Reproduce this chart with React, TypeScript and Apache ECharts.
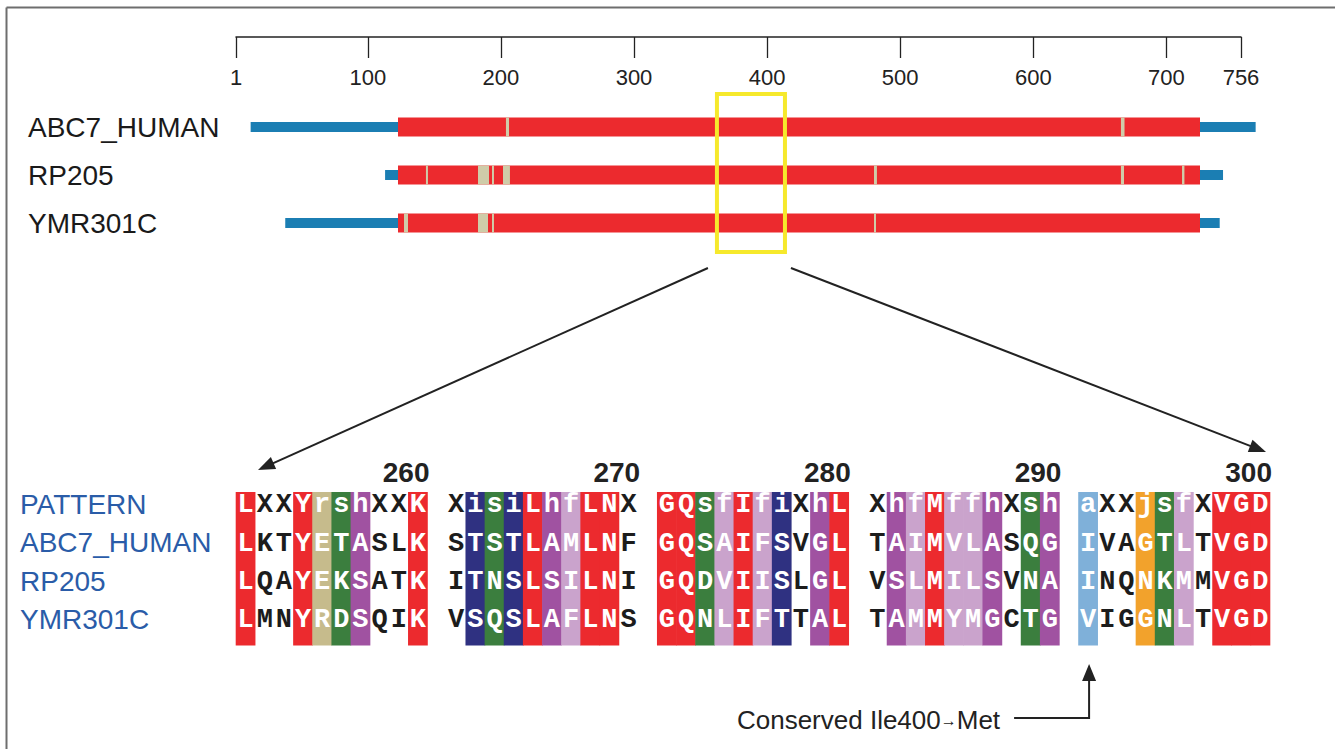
import React, { useEffect, useRef } from 'react';
import * as echarts from 'echarts';

// ---------- data ----------
const rulerTicks = [1, 100, 200, 300, 400, 500, 600, 700, 756];
const seqNames = ['ABC7_HUMAN', 'RP205', 'YMR301C'];
const seqStart = [12, 113, 38];
const seqEnd = [767, 742.5, 740];
const domainStart = [122.7, 122.7, 122.7];
const domainEnd = [725.2, 725.2, 725.2];
const gapsABC7 = [[203.8, 206.1], [665.8, 668.5]];
const gapsRP205 = [[143.7, 145.2], [182.8, 191.1], [193.3, 194.8], [201.6, 206.8], [480.3, 482.5], [665.8, 668.1], [711.7, 713.5]];
const gapsYMR301C = [[127.2, 130.2], [182.8, 190.3], [193.3, 194.8], [480.3, 481.8]];
const zoomWindow = [362.3, 413.4];

const alignNames = ['PATTERN', 'ABC7_HUMAN', 'RP205', 'YMR301C'];
const patternBlocks = ['LXXYrshXXK', 'XisiLhfLNX', 'GQsfIfiXhL', 'XhfMffhXsh', 'aXXjsfXVGD'];
const abc7Blocks = ['LKTYETASLK', 'STSTLAMLNF', 'GQSAIFSVGL', 'TAIMVLASQG', 'IVAGTLTVGD'];
const rp205Blocks = ['LQAYEKSATK', 'ITNSLSILNI', 'GQDVIISLGL', 'VSLMILSVNA', 'INQNKMMVGD'];
const ymrBlocks = ['LMNYRDSQIK', 'VSQSLAFLNS', 'GQNLIFTTAL', 'TAMMYMGCTG', 'VIGGNLTVGD'];
const blockEndLabels = ['260', '270', '280', '290', '300'];
const conservedBlock = 4;
const conservedCol = 0;
const annotationText = 'Conserved Ile400';
const annotationTail = 'Met';

// ---------- styles ----------
const RED = '#ec2a2e';
const BLUE = '#1b7eb3';
const TAN = '#cfcca9';
const YELLOW = '#f6e92c';
const classColors: Record<string, string> = {
  r: '#c6bb8c',
  s: '#3b7e3e',
  h: '#a052a1',
  f: '#caa3cc',
  i: '#2f3181',
  a: '#7fb0d9',
  j: '#f2a22c',
};
const SANS = "'Liberation Sans', Arial, Helvetica, sans-serif";
const NARROW = "'Liberation Sans Narrow', 'Arial Narrow', 'Liberation Sans', sans-serif";
const MONO = "'Courier New', 'Liberation Mono', monospace";

const W = 1335;
const H = 749;
const G0 = { left: 236, top: 103, width: 1005, height: 144 };
const G1 = { left: 236, top: 485, width: 1034, height: 153.6 };
const CELL_DY = 7;
const BLOCK_PITCH = 11;
const NCOL = 54;

function colorFor(p: string): string | null {
  if (p === 'X') return null;
  if (p >= 'A' && p <= 'Z') return RED;
  return classColors[p] || null;
}

function arrowHead(from: number[], to: number[], len = 17, half = 6.5) {
  const dx = to[0] - from[0];
  const dy = to[1] - from[1];
  const d = Math.hypot(dx, dy);
  const ux = dx / d, uy = dy / d;
  const bx = to[0] - ux * len, by = to[1] - uy * len;
  return {
    base: [bx + ux * 2, by + uy * 2],
    pts: [to, [bx - uy * half, by + ux * half], [bx + uy * half, by - ux * half]],
  };
}

export default function App() {
  const ref = useRef<HTMLDivElement>(null);
  useEffect(() => {
    if (!ref.current) return;
    const chart = echarts.init(ref.current, null, { renderer: 'svg' });

    type BarItem = { row: number; s: number; e: number; kind: 'seq' | 'dom' | 'gap' };
    const barItems: BarItem[] = [];
    const gapsAll = [gapsABC7, gapsRP205, gapsYMR301C];
    seqNames.forEach((_, r) => {
      barItems.push({ row: r, s: seqStart[r], e: seqEnd[r], kind: 'seq' });
      barItems.push({ row: r, s: domainStart[r], e: domainEnd[r], kind: 'dom' });
      gapsAll[r].forEach((g) => barItems.push({ row: r, s: g[0], e: g[1], kind: 'gap' }));
    });

    const rowsBlocks = [patternBlocks, abc7Blocks, rp205Blocks, ymrBlocks];
    const colItems: { col: number; color: string }[] = [];
    const letterItems: { col: number; row: number; ch: string; color: string }[] = [];
    patternBlocks.forEach((blk, b) => {
      for (let c = 0; c < blk.length; c++) {
        const col = b * BLOCK_PITCH + c;
        const bg = colorFor(blk[c]);
        if (bg) colItems.push({ col, color: bg });
        rowsBlocks.forEach((rb, r) => {
          letterItems.push({ col, row: r, ch: rb[b][c], color: bg ? '#ffffff' : '#1c1c1c' });
        });
      }
    });
    const labelItems = blockEndLabels.map((t, b) => ({ col: b * BLOCK_PITCH + 9, text: t }));

    const colW = G1.width / NCOL;
    const consX = G1.left + (conservedBlock * BLOCK_PITCH + conservedCol + 0.5) * colW + 1;
    const boxL = G0.left + (zoomWindow[0] - 1) * (G0.width / 755);
    const boxR = G0.left + (zoomWindow[1] - 1) * (G0.width / 755);
    const la = { from: [boxL - 9, 268], to: [G1.left + 22, 470] };
    const ra = { from: [boxR + 6, 268], to: [G1.left + G1.width - 4, 452] };
    const lah = arrowHead(la.from, la.to);
    const rah = arrowHead(ra.from, ra.to);
    const bottomY = 718;
    const upTip = [consX, 664];
    const uah = arrowHead([consX, bottomY], upTip, 17, 7);

    const option: any = {
      animation: false,
      backgroundColor: '#ffffff',
      grid: [
        { ...G0, containLabel: false },
        { ...G1, containLabel: false },
      ],
      xAxis: [
        {
          type: 'value', gridIndex: 0, min: 1, max: 756, position: 'top', offset: G0.top - 37,
          axisLine: { show: true, lineStyle: { color: '#222', width: 1.5 } },
          axisTick: { show: true, inside: true, length: 21, customValues: rulerTicks, lineStyle: { color: '#222', width: 1.3 } },
          axisLabel: { show: true, inside: true, customValues: rulerTicks, margin: 29, fontSize: 22, color: '#222', fontFamily: NARROW },
          splitLine: { show: false },
        },
        {
          type: 'category', gridIndex: 1, data: Array.from({ length: NCOL }, (_, i) => String(i)),
          show: false,
        },
      ],
      yAxis: [
        {
          type: 'category', gridIndex: 0, data: seqNames, inverse: true,
          axisLine: { show: false }, axisTick: { show: false }, splitLine: { show: false },
          axisLabel: { align: 'left', margin: G0.left - 28, fontSize: 28, color: '#1a1a1a', fontFamily: SANS },
        },
        {
          type: 'category', gridIndex: 1, data: alignNames, inverse: true,
          axisLine: { show: false }, axisTick: { show: false }, splitLine: { show: false },
          axisLabel: { align: 'left', margin: G1.left - 20, fontSize: 28, color: '#2a5ca8', fontFamily: SANS },
        },
      ],
      series: [
        {
          type: 'custom', xAxisIndex: 0, yAxisIndex: 0, clip: false,
          data: barItems.map((d) => [d.s, d.row]),
          renderItem: (params: any, api: any) => {
            const d = barItems[params.dataIndex];
            const p0 = api.coord([d.s, d.row]);
            const p1 = api.coord([d.e, d.row]);
            const h = d.kind === 'seq' ? 10 : 19;
            const fill = d.kind === 'seq' ? BLUE : d.kind === 'dom' ? RED : TAN;
            return { type: 'rect', shape: { x: p0[0], y: p0[1] - h / 2, width: p1[0] - p0[0], height: h }, style: { fill } };
          },
          z: 2,
        },
        {
          type: 'custom', xAxisIndex: 0, yAxisIndex: 0, clip: false,
          data: [[zoomWindow[0], 0]],
          renderItem: (params: any, api: any) => {
            const a = api.coord([zoomWindow[0], 0]);
            const b = api.coord([zoomWindow[1], seqNames.length - 1]);
            return {
              type: 'rect',
              shape: { x: a[0], y: a[1] - 33, width: b[0] - a[0], height: b[1] + 29 - (a[1] - 33) },
              style: { fill: 'none', stroke: YELLOW, lineWidth: 4 },
            };
          },
          z: 5,
        },
        {
          type: 'custom', xAxisIndex: 1, yAxisIndex: 1, clip: false,
          data: colItems.map((d) => [d.col, 0]),
          renderItem: (params: any, api: any) => {
            const d = colItems[params.dataIndex];
            const p = api.coord([d.col, 0]);
            const sz = api.size([1, 1]);
            return {
              type: 'rect',
              shape: { x: p[0] - sz[0] / 2 - 0.3, y: p[1] - sz[1] / 2 + CELL_DY, width: sz[0] + 0.6, height: sz[1] * alignNames.length },
              style: { fill: d.color },
            };
          },
          z: 2,
        },
        {
          type: 'custom', xAxisIndex: 1, yAxisIndex: 1, clip: false,
          data: letterItems.map((d) => [d.col, d.row]),
          renderItem: (params: any, api: any) => {
            const d = letterItems[params.dataIndex];
            const p = api.coord([d.col, d.row]);
            return {
              type: 'text',
              x: p[0], y: p[1] + 1,
              style: { text: d.ch, fill: d.color, font: `bold 27px ${MONO}`, align: 'center', verticalAlign: 'middle' },
            };
          },
          z: 3,
        },
        {
          type: 'custom', xAxisIndex: 1, yAxisIndex: 1, clip: false,
          data: labelItems.map((d) => [d.col, 0]),
          renderItem: (params: any, api: any) => {
            const d = labelItems[params.dataIndex];
            const p = api.coord([d.col, 0]);
            const sz = api.size([1, 1]);
            return {
              type: 'text',
              x: p[0] + sz[0] / 2 + 2, y: p[1] - sz[1] / 2 + CELL_DY - 20,
              style: { text: d.text, fill: '#222', font: `bold 28px ${SANS}`, align: 'right', verticalAlign: 'middle' },
            };
          },
          z: 3,
        },
      ],
      graphic: [
        { type: 'line', shape: { x1: 6.5, y1: 7.5, x2: W, y2: 7.5 }, style: { stroke: '#6e6e6e', lineWidth: 2 } },
        { type: 'line', shape: { x1: 6.5, y1: 7.5, x2: 6.5, y2: H }, style: { stroke: '#6e6e6e', lineWidth: 2 } },
        { type: 'line', shape: { x1: la.from[0], y1: la.from[1], x2: lah.base[0], y2: lah.base[1] }, style: { stroke: '#222', lineWidth: 2 } },
        { type: 'polygon', shape: { points: lah.pts }, style: { fill: '#222' } },
        { type: 'line', shape: { x1: ra.from[0], y1: ra.from[1], x2: rah.base[0], y2: rah.base[1] }, style: { stroke: '#222', lineWidth: 2 } },
        { type: 'polygon', shape: { points: rah.pts }, style: { fill: '#222' } },
        {
          type: 'polyline',
          shape: { points: [[consX - 75, bottomY], [consX, bottomY], [uah.base[0], uah.base[1]]] },
          style: { stroke: '#222', lineWidth: 2, fill: 'none' },
        },
        { type: 'polygon', shape: { points: uah.pts }, style: { fill: '#222' } },
        {
          type: 'text', x: consX - 89, y: bottomY + 2,
          style: {
            text: `${annotationText}{a|→}${annotationTail}`,
            rich: { a: { fontSize: 16, fontFamily: SANS, fill: '#222', verticalAlign: 'middle' } },
            fontSize: 26, fontFamily: SANS, fill: '#222', align: 'right', verticalAlign: 'middle',
          },
        },
      ],
    };
    chart.setOption(option);
    return () => chart.dispose();
  }, []);
  return <div ref={ref} style={{ position: 'fixed', left: 0, top: 0, width: W, height: H }} />;
}
